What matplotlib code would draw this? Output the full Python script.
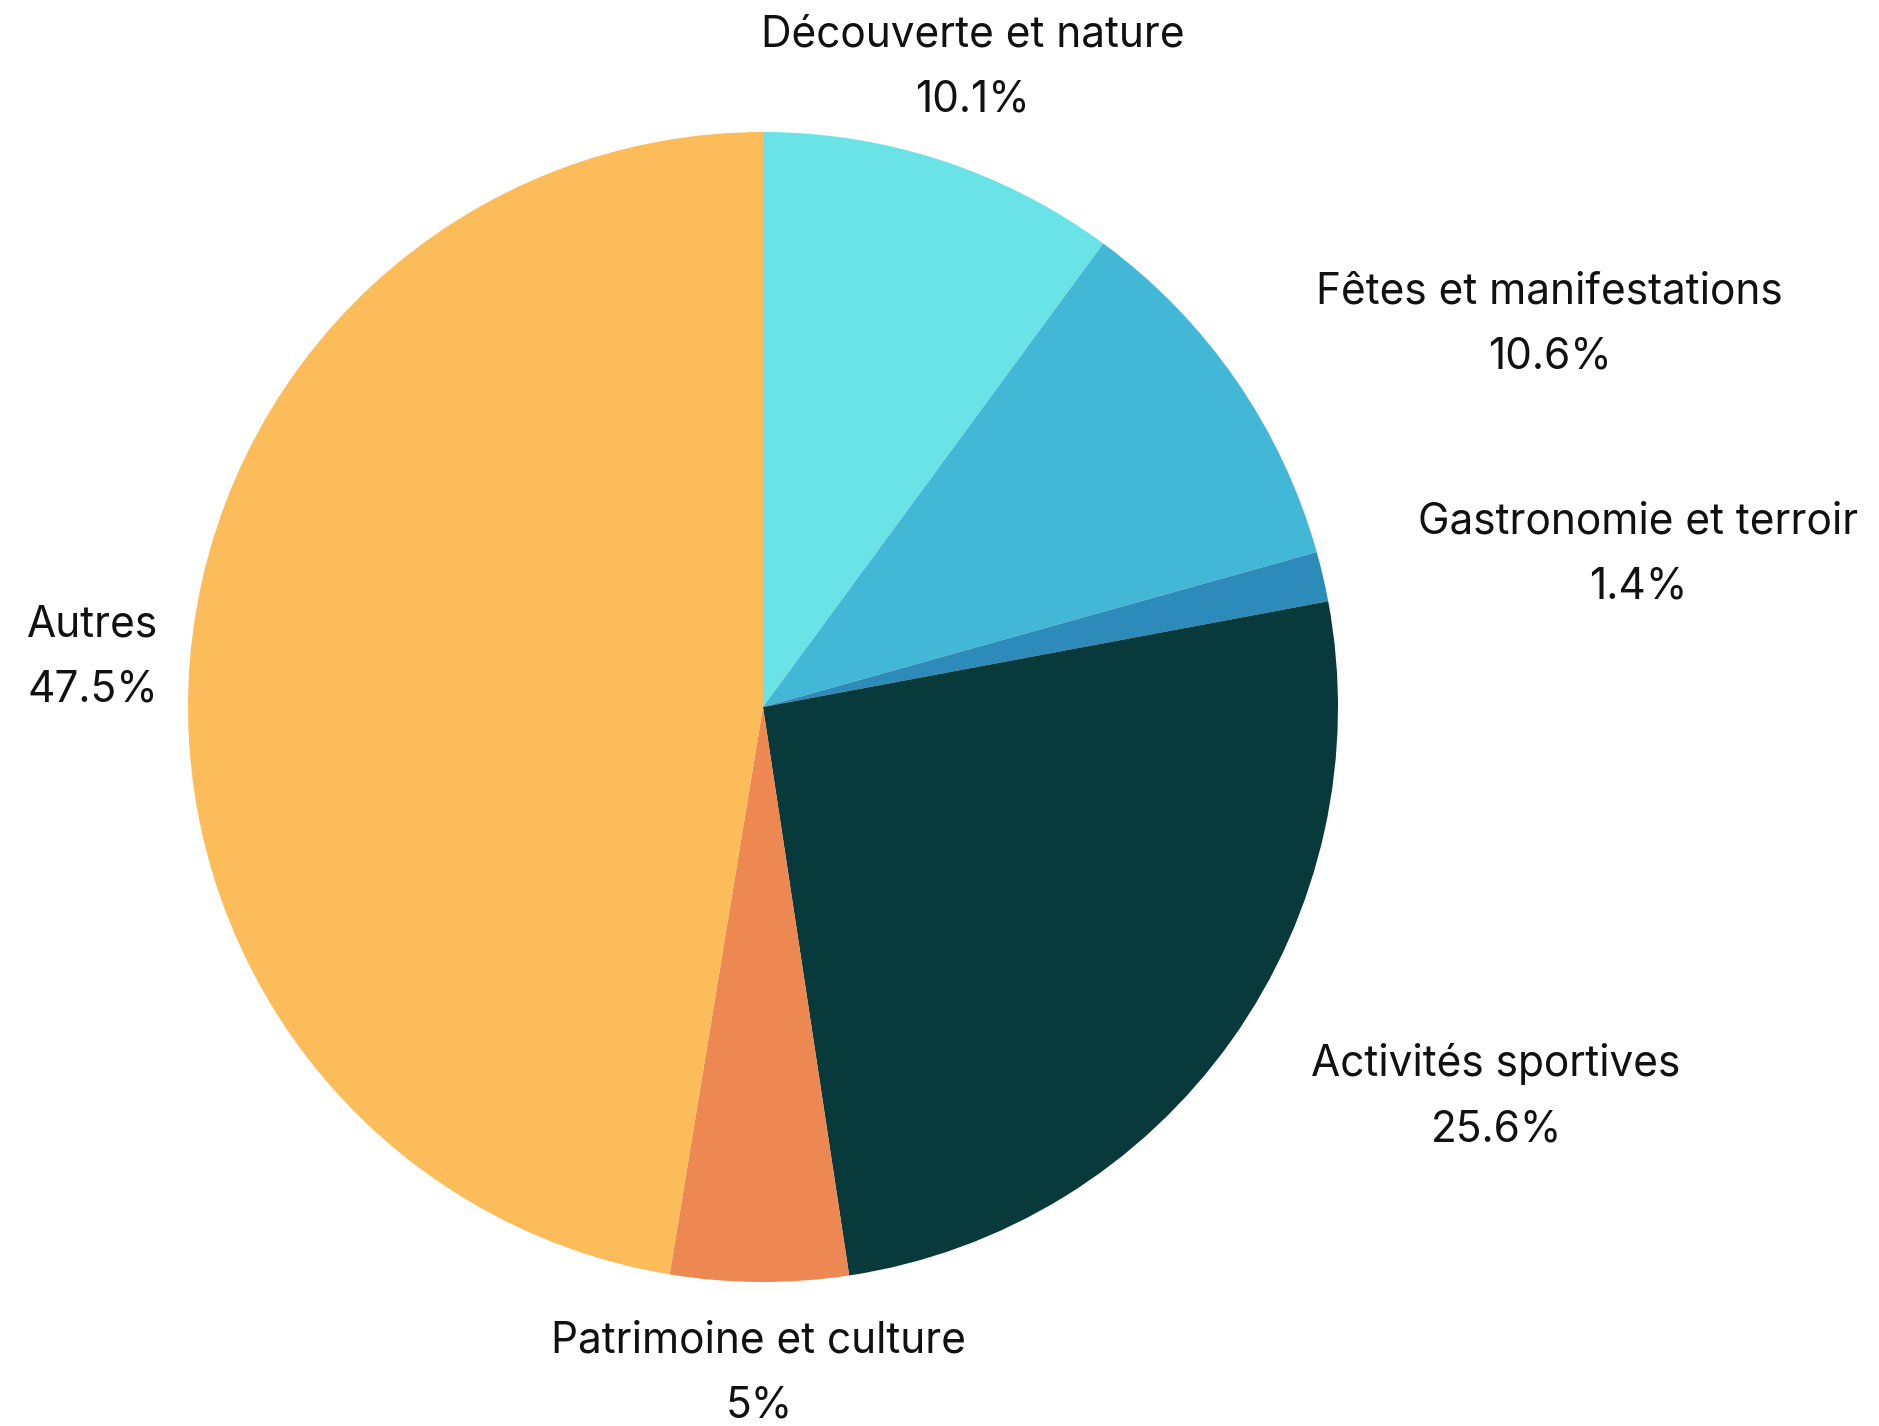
import numpy as np
import matplotlib
matplotlib.use('Agg')
import matplotlib.pyplot as plt

# Data
categories = ['Découverte et nature', 'Fêtes et manifestations', 'Gastronomie et terroir',
              'Activités sportives', 'Patrimoine et culture', 'Autres']
shares = [10.1, 10.6, 1.4, 25.6, 5, 47.5]
pct_labels = ['10.1%', '10.6%', '1.4%', '25.6%', '5%', '47.5%']

colors = ['#6AE3E7', '#43B7D6', '#2D8BBA', '#083A3C', '#EE8853', '#FDBC5A']
label_dist = [1.17, 1.17, 1.17, 1.17, 1.16, 1.055]

plt.rcParams['font.family'] = ['Inter', 'DejaVu Sans']

fig = plt.figure(figsize=(18.79, 14.26), dpi=100)
ax = fig.add_axes([0, 0, 1, 1])

wedges, _ = ax.pie(shares, colors=colors, startangle=90, counterclock=False,
                   radius=1, wedgeprops=dict(linewidth=0))

# place the labels outside, left/right aligned depending on side
for w, cat, pct, d in zip(wedges, categories, pct_labels, label_dist):
    mid = np.deg2rad((w.theta1 + w.theta2) / 2)
    x, y = d * np.cos(mid), d * np.sin(mid)
    if abs(np.cos(mid)) < 0.4:
        ha = 'center'
    elif np.cos(mid) > 0:
        ha = 'left'
    else:
        ha = 'right'
    ax.text(x, y, cat + '\n' + pct, ha=ha, va='center', multialignment='center',
            fontsize=30.5, color='#111111', linespacing=1.75)

# 1 data unit = 575 px, pie centre at (763, 707) px
ax.set_xlim(-763 / 575, (1879 - 763) / 575)
ax.set_ylim(-(1426 - 707) / 575, 707 / 575)
ax.set_aspect('equal')
ax.axis('off')

fig.savefig('out.png', dpi=100)
